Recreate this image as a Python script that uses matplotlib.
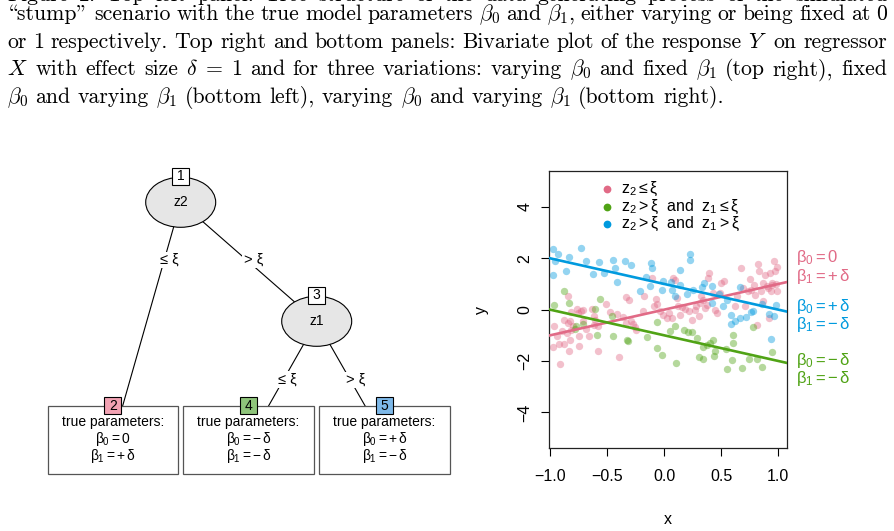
import numpy as np
import matplotlib
matplotlib.use("Agg")
import matplotlib.pyplot as plt
from matplotlib.patches import Ellipse, Rectangle

plt.rcParams['font.family'] = ['Liberation Sans', 'DejaVu Sans']
plt.rcParams['mathtext.fontset'] = 'custom'
plt.rcParams['mathtext.rm'] = 'Liberation Sans'
plt.rcParams['mathtext.it'] = 'Liberation Sans'
plt.rcParams['mathtext.sf'] = 'Liberation Sans'
plt.rcParams['mathtext.bf'] = 'Liberation Sans:bold'

# ---------------- data ----------------
pink_x = [-0.845, -0.909, -0.971, -0.918, -0.936, -0.962, -0.874, -0.845, -0.825, -0.825,
          -0.766, -0.758, -0.728, -0.708, -0.816, -0.746, -0.749, -0.831, -0.877, -0.898,
          -0.854, -0.819, -0.796, -0.714, -0.688, -0.655, -0.612, -0.606, -0.615, -0.582,
          -0.582, -0.629, -0.509, -0.474, -0.416, -0.396, -0.358, -0.334, -0.305, -0.337,
          -0.291, -0.270, -0.255, -0.247, -0.182, -0.174, -0.109, -0.074, -0.063, -0.086,
          -0.036, -0.007, 0.022, 0.045, 0.066, 0.080, 0.092, 0.109, 0.124, 0.139,
          0.153, 0.185, 0.215, 0.241, 0.270, 0.279, 0.305, 0.314, 0.337, 0.326,
          0.358, 0.372, 0.387, 0.396, 0.431, 0.445, 0.460, 0.489, 0.495, 0.527,
          0.620, 0.635, 0.670, 0.693, 0.708, 0.734, 0.752, 0.758, 0.787, 0.796,
          0.810, 0.825, 0.831, 0.845, 0.863, 0.869, 0.883, 0.898, 0.907, 0.927,
          0.933, 0.942, 0.947, 0.962, 0.974, 0.980, 0.985, 0.991, 0.921]
pink_y = [0.52, -2.12, -1.45, -1.33, -1.04, -0.65, -0.39, -0.52, -0.44, -1.17,
          0.03, -0.13, -0.06, -0.03, -0.09, -1.04, -1.42, -1.62, -1.33, -0.82,
          -0.91, -0.78, -0.65, -0.45, -0.75, -1.04, -0.61, -0.39, -0.26, -0.65,
          -1.62, 0.03, 0.23, -0.08, -0.17, -1.83, -0.28, 0.49, 0.39, -0.52,
          -0.45, -0.56, -0.69, -0.80, -0.06, 0.52, 1.23, 0.41, 0.22, 0.13,
          -0.06, -0.22, -0.32, -0.13, -0.32, 1.23, 1.14, 0.45, 0.13, -0.19,
          0.10, 0.03, -0.06, -0.39, 0.00, 0.13, -0.23, 0.26, 0.39, 0.52,
          0.06, 0.19, 1.23, 1.42, 0.65, -0.03, -0.13, 0.65, 1.04, 1.10,
          0.13, 0.52, 1.62, 0.84, 0.13, 0.71, 1.20, 0.78, 0.97, 0.58,
          -0.58, 1.77, 1.51, 0.71, 0.32, 1.04, 1.36, 0.91, 0.84, 1.42,
          0.71, 1.04, 0.97, 1.88, 1.49, 1.00, 1.68, 0.71, -0.32]

green_x = [-0.962, -0.874, -0.834, -0.775, -0.781, -0.708, -0.562, -0.591, -0.609, -0.454,
           -0.448, -0.328, -0.320, -0.147, -0.060, -0.060, -0.022, 0.051, 0.095, 0.104,
           0.177, 0.212, 0.241, 0.285, 0.305, 0.343, 0.343, 0.372, 0.401, 0.425,
           0.442, 0.436, 0.542, 0.547, 0.591, 0.600, 0.606, 0.685, 0.743, 0.781,
           0.810, 0.860, 0.947]
green_y = [0.19, 0.74, 0.25, -0.62, -0.74, -0.54, 0.41, -0.97, 0.04, -0.23,
           -1.04, -1.17, -1.23, -1.07, -0.48, -1.49, -1.75, -0.85, -0.62, -2.08,
           -0.78, -0.88, -0.88, -1.10, -1.84, -1.92, -1.46, -1.36, -1.29, -1.17,
           -1.62, -1.79, -1.55, -2.30, -1.98, -1.00, -1.29, -2.27, -1.92, -0.69,
           -1.94, -2.24, -1.66]

blue_x = [-0.977, -0.927, -0.956, -0.831, -0.728, -0.685, -0.971, -0.860, -0.574, -0.626,
          -0.527, -0.451, -0.428, -0.410, -0.346, -0.291, -0.212, -0.162, -0.115, -0.109,
          -0.124, -0.019, -0.007, 0.060, 0.095, 0.072, 0.139, 0.139, 0.226, 0.226,
          0.203, 0.255, 0.331, 0.349, 0.416, 0.419, 0.480, 0.515, 0.547, 0.582,
          0.588, 0.620, 0.664, 0.664, 0.714, 0.758, 0.775, 0.857, 0.921, 0.939,
          0.965, 0.980]
blue_y = [2.38, 2.16, 1.88, 2.05, 2.41, 1.88, 1.36, 1.51, 1.84, 1.40,
          1.42, 1.92, 1.61, 1.06, 1.90, 1.73, 0.71, 1.27, 1.81, 1.62,
          0.93, 0.78, 1.11, 1.06, 0.54, 0.78, 0.97, 1.53, 2.16, 1.94,
          0.61, 0.78, 0.88, 1.04, 0.94, 0.26, 0.60, 0.13, 0.39, -0.22,
          -0.54, -0.45, 0.88, -0.32, -0.28, -0.10, -0.05, 0.21, -0.16, -1.14,
          -0.26, 0.18]

delta = 1.0
group_intercepts = [0.0, -delta, +delta]     # pink, green, blue
group_slopes = [+delta, -delta, -delta]
group_colors = ['#E16A86', '#50A315', '#009ADE']
label_fills = ['#F2A2B3', '#8EC47A', '#7DB8E8']

x_ticks = [-1.0, -0.5, 0.0, 0.5, 1.0]
x_ticklabels = ['\u22121.0', '\u22120.5', '0.0', '0.5', '1.0']
y_ticks = [-4, -2, 0, 2, 4]
y_ticklabels = ['\u22124', '\u22122', '0', '2', '4']

legend_labels = [r'$z_2 \leq \xi$',
                 r'$z_2 > \xi\ \ \mathrm{and}\ \ z_1 \leq \xi$',
                 r'$z_2 > \xi\ \ \mathrm{and}\ \ z_1 > \xi$']
side_labels = [(r'$\beta_0 = 0$', r'$\beta_1 = +\,\delta$'),
               (r'$\beta_0 = -\,\delta$', r'$\beta_1 = -\,\delta$'),
               (r'$\beta_0 = +\,\delta$', r'$\beta_1 = -\,\delta$')]

caption_lines = [
    "Figure 2: Top left panel: Tree structure of the data generating process of the simulated",
    "\\stump\" scenario with the true model parameters $\\beta_0$ and $\\beta_1$, either varying or being fixed at 0",
    "or 1 respectively. Top right and bottom panels: Bivariate plot of the response $Y$ on regressor",
    "$X$ with effect size $\\delta$ = 1 and for three variations: varying $\\beta_0$ and fixed $\\beta_1$ (top right), fixed",
    "$\\beta_0$ and varying $\\beta_1$ (bottom left), varying $\\beta_0$ and varying $\\beta_1$ (bottom right).",
]

# ---------------- figure ----------------
W, H = 894, 531
fig = plt.figure(figsize=(W / 100, H / 100), dpi=100)

ax = fig.add_axes([548.7 / W, 1 - 448.3 / H, (786.7 - 548.7) / W, (448.3 - 171) / H])
ax.set_xlim(-1.012, 1.073)
ax.set_ylim(-5.4, 5.4)
groups = [(pink_x, pink_y), (green_x, green_y), (blue_x, blue_y)]
for (gx, gy), c in zip(groups, group_colors):
    ax.scatter(gx, gy, s=28, color=c, alpha=0.42, linewidths=0, zorder=2)
for b0, b1, c in zip(group_intercepts, group_slopes, group_colors):
    ax.axline((0, b0), slope=b1, color=c, lw=1.9, zorder=3)
ax.set_xticks(x_ticks)
ax.set_xticklabels(x_ticklabels)
ax.set_yticks(y_ticks)
ax.set_yticklabels(y_ticklabels, rotation=90, va='center')
ax.tick_params(direction='out', length=5.8, width=0.8, labelsize=11.5, colors='black')
ax.tick_params(axis='x', pad=9)
ax.tick_params(axis='y', pad=6)
for sp in ax.spines.values():
    sp.set_linewidth(0.9)
    sp.set_color('#222222')

# overlay in pixel coordinates
ov = fig.add_axes([0, 0, 1, 1], zorder=5)
ov.set_xlim(0, W)
ov.set_ylim(H, 0)
ov.axis('off')
ov.patch.set_alpha(0)

ov.text(668, 519, 'x', fontsize=11.5, ha='center', va='center')
ov.text(481, 310, 'y', fontsize=11.5, ha='center', va='center', rotation=90)

# legend
leg_y = [189, 206.7, 224.3]
for ly, lab, c in zip(leg_y, legend_labels, group_colors):
    ov.plot([607.3], [ly], 'o', ms=5.6, color=c, mec='none')
    ov.text(620.7, ly, lab, fontsize=11.5, va='center', ha='left')

# side labels (pink, green, blue)
side_y = [(257.7, 276.0), (361.0, 379.0), (306.7, 325.0)]
for (l0, l1), (y0, y1), c in zip(side_labels, side_y, group_colors):
    ov.text(796.5, y0, l0, color=c, fontsize=12, va='center', ha='left')
    ov.text(796.5, y1, l1, color=c, fontsize=12, va='center', ha='left')

# ---------------- tree ----------------
edge_kw = dict(color='black', lw=0.8, zorder=1)
ov.plot([180.7, 122.7], [202.3, 405.7], **edge_kw)
ov.plot([180.7, 316.7], [202.3, 321.3], **edge_kw)
ov.plot([316.7, 268.7], [321.3, 405.7], **edge_kw)
ov.plot([316.7, 365.0], [321.3, 405.7], **edge_kw)

lab_bbox = dict(facecolor='white', edgecolor='none', pad=1.0)
for (ex, ey, t) in [(169, 260, '\u2264 \u03be'), (253.5, 260, '> \u03be'),
                    (287.7, 379.5, '\u2264 \u03be'), (355.7, 380, '> \u03be')]:
    ov.text(ex, ey, t, fontsize=10.5, ha='center', va='center', bbox=lab_bbox, zorder=3)

for (cx, cy, name, num) in [(180.7, 202.3, 'z2', '1'), (316.7, 321.3, 'z1', '3')]:
    ov.add_patch(Ellipse((cx, cy), 70, 50, facecolor='#E6E6E6', edgecolor='black', lw=0.8, zorder=4))
    ov.text(cx, cy, name, fontsize=10, ha='center', va='center', zorder=5)
    ov.add_patch(Rectangle((cx - 8.3, cy - 34.2), 16.6, 16.6, facecolor='white',
                           edgecolor='black', lw=0.8, zorder=6))
    ov.text(cx, cy - 25.9, num, fontsize=10, ha='center', va='center', zorder=7)

term_left = [47.7, 183.3, 319.3]
term_nums = ['2', '4', '5']
term_lines = [(r'$\beta_0 = 0$', r'$\beta_1 = +\,\delta$'),
              (r'$\beta_0 = -\,\delta$', r'$\beta_1 = -\,\delta$'),
              (r'$\beta_0 = +\,\delta$', r'$\beta_1 = -\,\delta$')]
for xl, num, (t0, t1), fc in zip(term_left, term_nums, term_lines, label_fills):
    ov.add_patch(Rectangle((xl, 405.7), 130.3, 68, facecolor='white', edgecolor='#555555',
                           lw=0.9, zorder=4))
    cxm = xl + 65.15
    ov.add_patch(Rectangle((cxm - 8.5, 397.2), 17, 17, facecolor=fc, edgecolor='black',
                           lw=0.8, zorder=6))
    ov.text(cxm, 405.9, num, fontsize=10, ha='center', va='center', zorder=7)
    ov.text(cxm, 421.7, 'true parameters:', fontsize=10, ha='center', va='center', zorder=5)
    ov.text(cxm, 439.3, t0, fontsize=10, ha='center', va='center', zorder=5)
    ov.text(cxm, 456.0, t1, fontsize=10, ha='center', va='center', zorder=5)

# ---------------- caption (justified) ----------------
CAPFAM = ['cmr10', 'DejaVu Serif']
renderer = fig.canvas.get_renderer()


def measure(words, fs):
    ts = [ov.text(0, 0, w, fontsize=fs, family=CAPFAM, math_fontfamily='cm') for w in words]
    ws = [t.get_window_extent(renderer).width for t in ts]
    for t in ts:
        t.remove()
    return ws


last_words = caption_lines[-1].split(' ')
fs0 = 10.0
ws0 = measure(last_words, fs0)
nat0 = sum(ws0) + (len(ws0) - 1) * 0.3333 * fs0 * 100 / 72
fs = fs0 * (727 - 7) / nat0

baselines = [1.0, 20.0, 47.7, 75.4, 103.1]
x_left, x_right = 7.0, 887.0
for i, (line, yb) in enumerate(zip(caption_lines, baselines)):
    words = line.split(' ')
    ws = measure(words, fs)
    if i < len(caption_lines) - 1:
        gap = (x_right - x_left - sum(ws)) / (len(words) - 1)
    else:
        gap = 0.3333 * fs * 100 / 72
    x = x_left
    for w, wd in zip(words, ws):
        ov.text(x, yb, w, fontsize=fs, family=CAPFAM, math_fontfamily='cm',
                ha='left', va='baseline', color='black')
        x += wd + gap

fig.savefig('out.png', dpi=100)
